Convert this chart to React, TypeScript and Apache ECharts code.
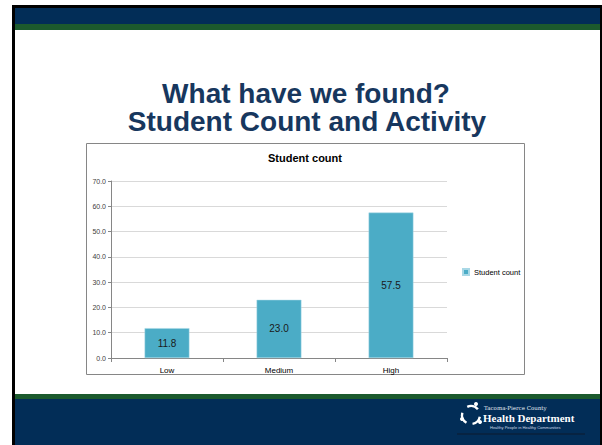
import React, { useEffect, useRef } from "react";
import * as echarts from "echarts";

const categories = ["Low", "Medium", "High"];
const studentCount = [11.8, 23.0, 57.5];
const seriesName = "Student count";
const chartTitle = "Student count";
const slideTitleLines = ["What have we found?", "Student Count and Activity"];
const logoLines = ["Tacoma-Pierce County", "Health Department", "Healthy People in Healthy Communities"];

const NAVY = "#022d57";
const GREEN = "#1c5a2d";
const TITLE_BLUE = "#17375e";

export default function App() {
  const ref = useRef<HTMLDivElement>(null);
  useEffect(() => {
    const chart = echarts.init(ref.current!, null, { renderer: "svg" });
    chart.setOption({
      animation: false,
      backgroundColor: "#ffffff",
      graphic: [
        // slide frame
        { type: "rect", z: -10, silent: true, shape: { x: 12, y: 5, width: 590, height: 440 }, style: { fill: "#000" } },
        { type: "rect", z: -9, silent: true, shape: { x: 15, y: 8, width: 585, height: 437 }, style: { fill: "#fff" } },
        { type: "rect", z: -8, silent: true, shape: { x: 15, y: 8, width: 585, height: 16 }, style: { fill: NAVY } },
        { type: "rect", z: -8, silent: true, shape: { x: 15, y: 24, width: 585, height: 6 }, style: { fill: GREEN } },
        { type: "rect", z: -8, silent: true, shape: { x: 15, y: 394, width: 585, height: 5 }, style: { fill: GREEN } },
        { type: "rect", z: -8, silent: true, shape: { x: 15, y: 399, width: 585, height: 46 }, style: { fill: NAVY } },
        // slide title
        {
          type: "text", z: 5,
          style: { text: slideTitleLines[0], x: 306, y: 93, align: "center", verticalAlign: "middle", font: 'bold 28px "Liberation Sans", Arial, sans-serif', fill: TITLE_BLUE },
        },
        {
          type: "text", z: 5,
          style: { text: slideTitleLines[1], x: 307, y: 121.5, align: "center", verticalAlign: "middle", font: 'bold 28px "Liberation Sans", Arial, sans-serif', fill: TITLE_BLUE },
        },
        // chart box
        { type: "rect", z: -5, silent: true, shape: { x: 86.5, y: 143.5, width: 438, height: 231 }, style: { fill: "#fff", stroke: "#868686", lineWidth: 1 } },
        {
          type: "text", z: 5,
          style: { text: chartTitle, x: 305, y: 158, align: "center", verticalAlign: "middle", font: 'bold 11px "Liberation Sans", Arial, sans-serif', fill: "#000" },
        },
        // logo
        { type: "arc", z: 5, shape: { cx: 471, cy: 415, r: 9, startAngle: -2.0, endAngle: -0.7 }, style: { stroke: "#fff", lineWidth: 2.4, fill: "none" } },
        { type: "arc", z: 5, shape: { cx: 471, cy: 415, r: 9, startAngle: 0.2, endAngle: 1.4 }, style: { stroke: "#fff", lineWidth: 2.4, fill: "none" } },
        { type: "arc", z: 5, shape: { cx: 471, cy: 415, r: 9, startAngle: 2.1, endAngle: 3.4 }, style: { stroke: "#fff", lineWidth: 2.4, fill: "none" } },
        { type: "circle", z: 5, shape: { cx: 476, cy: 404, r: 2 }, style: { fill: "#fff" } },
        { type: "circle", z: 5, shape: { cx: 480, cy: 422, r: 2 }, style: { fill: "#fff" } },
        { type: "circle", z: 5, shape: { cx: 462, cy: 419, r: 2 }, style: { fill: "#fff" } },
        {
          type: "text", z: 5,
          style: { text: logoLines[0], x: 484, y: 408, align: "left", verticalAlign: "middle", font: '5.5px "DejaVu Serif", serif', fill: "#e8eef5" },
        },
        {
          type: "text", z: 5,
          style: { text: logoLines[1], x: 483, y: 418, align: "left", verticalAlign: "middle", font: 'bold 11px "Liberation Serif", serif', fill: "#ffffff" },
        },
        {
          type: "text", z: 5,
          style: { text: logoLines[2], x: 490, y: 427, align: "left", verticalAlign: "middle", font: '4px "Liberation Sans", sans-serif', fill: "#d0dae6" },
        },
        { type: "line", z: 5, shape: { x1: 457, y1: 434, x2: 585, y2: 434 }, style: { stroke: "#0c1a2e", lineWidth: 1 } },
      ],
      legend: {
        data: [seriesName],
        left: 462,
        top: 268,
        padding: 0,
        icon: "rect",
        itemWidth: 6,
        itemHeight: 6,
        itemGap: 4,
        textStyle: { fontSize: 7.5, fontFamily: '"Liberation Sans", Arial, sans-serif', color: "#000" },
      },
      grid: { left: 111, right: 155, top: 181, bottom: 87, containLabel: false },
      xAxis: {
        type: "category",
        data: categories,
        axisLine: { lineStyle: { color: "#868686", width: 1 } },
        axisTick: { show: true, alignWithLabel: false, length: 4, lineStyle: { color: "#868686" } },
        axisLabel: { fontSize: 8, color: "#000", fontFamily: '"Liberation Sans", Arial, sans-serif', margin: 8 },
      },
      yAxis: {
        type: "value",
        min: 0,
        max: 70,
        interval: 10,
        axisLine: { show: true, lineStyle: { color: "#868686", width: 1 } },
        axisTick: { show: true, length: 3, lineStyle: { color: "#868686" } },
        axisLabel: {
          fontSize: 7,
          color: "#404040",
          fontFamily: '"Liberation Sans", Arial, sans-serif',
          margin: 5,
          formatter: (v: number) => v.toFixed(1),
        },
        splitLine: { show: true, lineStyle: { color: "#d9d9d9", width: 1 } },
      },
      series: [
        {
          name: seriesName,
          type: "bar",
          data: studentCount,
          barWidth: "40%",
          itemStyle: { color: "#4bacc6", borderColor: "#a9d8e6", borderWidth: 0.5 },
          label: {
            show: true,
            position: "inside",
            fontSize: 10,
            color: "#1a1a1a",
            fontFamily: '"Liberation Sans", Arial, sans-serif',
            formatter: (p: any) => Number(p.value).toFixed(1),
          },
        },
      ],
    });
    return () => chart.dispose();
  }, []);
  return (
    <div
      ref={ref}
      style={{ position: "absolute", left: 0, top: 0, width: 602, height: 445, background: "#fff" }}
    />
  );
}
